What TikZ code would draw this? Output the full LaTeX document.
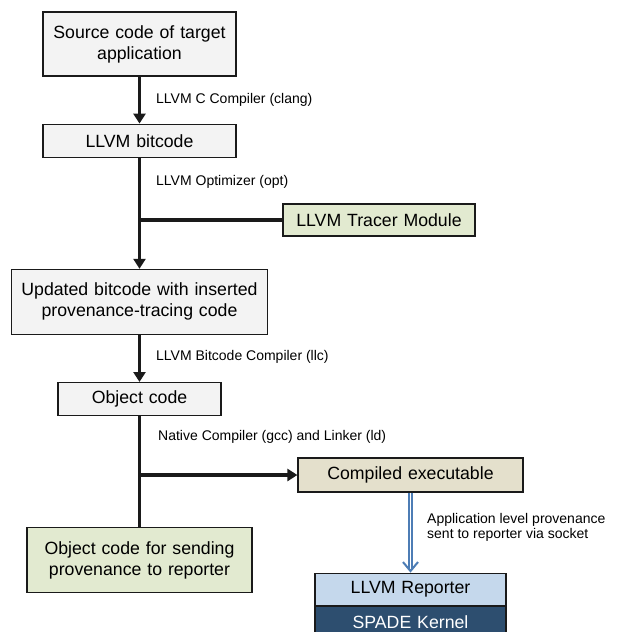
\documentclass[tikz,border=0pt]{standalone}
\usepackage{fontspec}
\setmainfont{Liberation Sans}
\usepackage{xcolor}
\definecolor{edgeink}{HTML}{1A1A1A}
\definecolor{pale}{HTML}{F3F3F3}
\definecolor{sage}{HTML}{E2EAD0}
\definecolor{khaki}{HTML}{E4E0CC}
\definecolor{skyblue}{HTML}{C5D8EC}
\definecolor{navy}{HTML}{2D4E6F}
\definecolor{steel}{HTML}{4D7DB5}
\usepackage{tikz}
\usetikzlibrary{positioning,arrows.meta,calc}
\tikzset{
  box/.style={draw=edgeink, line width=1.2pt, fill=pale, align=center, inner sep=4pt, font=\fontsize{17.7}{21}\selectfont},
  addon/.style={box, fill=sage},
  product/.style={box, fill=khaki},
  reporter/.style={box, fill=skyblue},
  kernel/.style={box, fill=navy, text=white},
  flow/.style={-{Triangle[length=10pt,width=12pt]}, line width=3.6pt, edgeink},
  link/.style={line width=3.6pt, edgeink},
  socket/.style={-{Straight Barb[length=9pt,width=15pt,line width=2pt]}, draw=steel, double=white, double distance=1.6pt, line width=1.3pt},
  note/.style={font=\fontsize{14}{15.5}\selectfont, align=left, anchor=west, inner sep=0pt},
}

\begin{document}
\begin{tikzpicture}[x=1pt, y=1pt]
  \useasboundingbox (0,0) rectangle (616,-632);
  % main tool chain
  \node[box, text width=185pt, minimum height=64pt] (src) at (139.5,-44) {Source code of target\\application};
  \node[box, text width=185pt, minimum height=33pt, below=47pt of src] (bc) {LLVM bitcode};
  \node[box, text width=248pt, minimum height=65pt, below=111pt of bc] (upd) {Updated bitcode with inserted\\provenance-tracing code};
  \node[box, text width=155pt, minimum height=33pt, below=47pt of upd] (obj) {Object code};
  \node[addon, text width=217pt, minimum height=65pt, below=111pt of obj] (snd) {Object code for sending\\provenance to reporter};
  % side branches
  \node[addon, text width=184pt, minimum height=32pt] (trc) at (379,-220) {LLVM Tracer Module};
  \node[product, text width=217pt, minimum height=34pt] (exe) at (410.5,-475) {Compiled executable};
  \node[reporter, text width=183pt, minimum height=32pt, below=80pt of exe] (rep) {LLVM Reporter};
  \node[kernel, text width=183pt, minimum height=32pt, below=0pt of rep] (krn) {SPADE Kernel};

  \draw[flow] (src) -- (bc);
  \draw[flow] (bc) -- (upd);
  \draw[link] (trc.west) -- (trc.west -| bc.south);
  \draw[flow] (upd) -- (obj);
  \draw[link] (obj) -- (snd);
  \draw[flow] (exe.west -| obj.south) -- (exe.west);
  \draw[socket] (exe) -- (rep);

  % step labels
  \node[note] (clang) at (156,-100) {LLVM C Compiler (clang)};
  \node[note] (opt) at (156,-182) {LLVM Optimizer (opt)};
  \node[note] (llc) at (156,-357) {LLVM Bitcode Compiler (llc)};
  \node[note] (gcc) at (158,-437) {Native Compiler (gcc) and Linker (ld)};
  \node[note] (sock) at (427,-527.5) {Application level provenance\\sent to reporter via socket};
\end{tikzpicture}
\end{document}
